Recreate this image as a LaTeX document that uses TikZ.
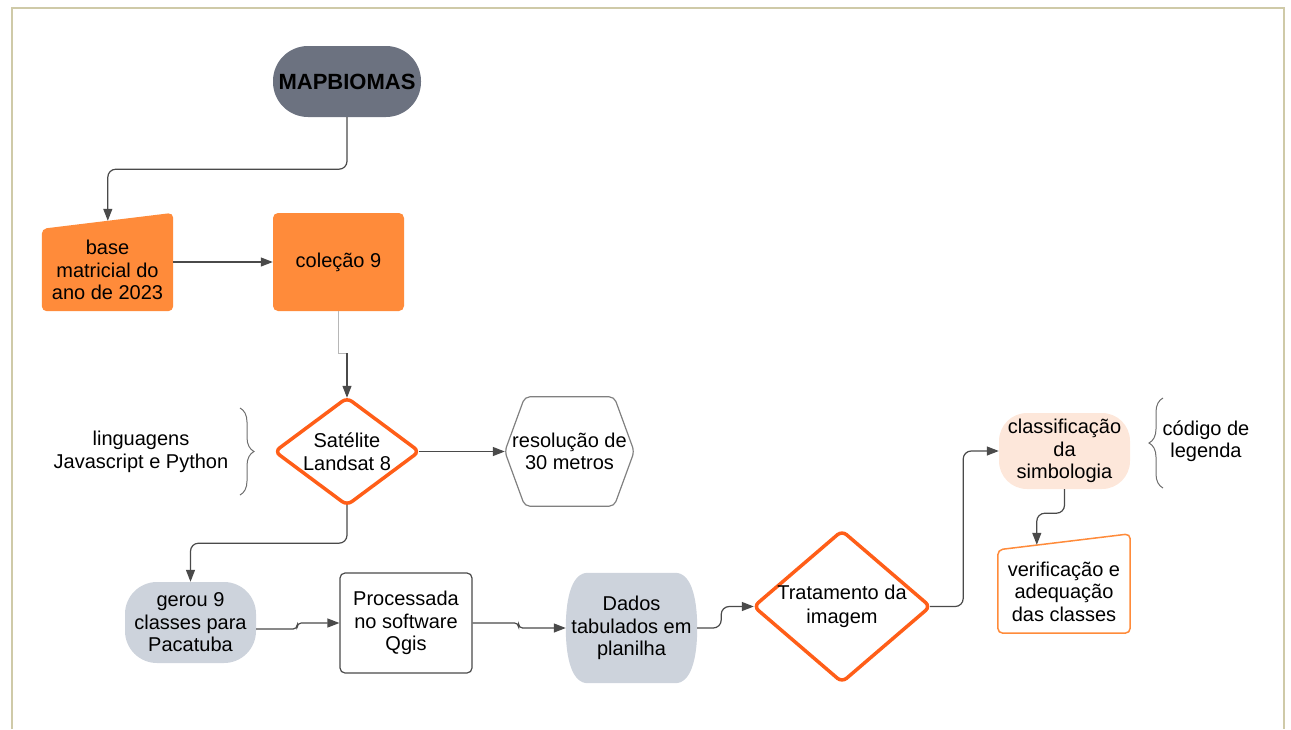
\documentclass[tikz,border=0pt]{standalone}
\usepackage{xcolor}
\usepackage{fontspec}
\setmainfont{Liberation Sans}
\usepackage{tikz}
\usetikzlibrary{shapes.geometric, arrows.meta, positioning, calc, backgrounds, decorations.pathreplacing}
\definecolor{mapcinza}{RGB}{108,114,128}
\definecolor{laranja}{RGB}{255,139,58}
\definecolor{vermelho}{RGB}{255,94,24}
\definecolor{cinzaclaro}{RGB}{205,211,220}
\definecolor{pessego}{RGB}{253,231,218}
\definecolor{linha}{RGB}{74,74,74}
\definecolor{moldura}{RGB}{207,202,168}
\tikzstyle{txt} = [align=center, inner sep=0pt, text=black, font=\fontsize{20}{22.5}\selectfont]
\tikzstyle{term} = [txt, fill=mapcinza, rounded corners=35pt, minimum width=148pt, minimum height=71pt,
 font=\fontsize{22}{24}\bfseries\selectfont]
\tikzstyle{caixa} = [txt, rounded corners=5pt]
\tikzstyle{losango} = [draw=vermelho, line width=3.5pt, fill=white, rounded corners=6pt]
\tikzstyle{conn} = [draw=linha, line width=1.2pt, ->, >={Triangle[length=12pt,width=9pt]}]
\tikzstyle{chave} = [draw=linha!80, line width=1pt, decorate, decoration={brace, amplitude=14pt}]

\begin{document}
\begin{tikzpicture}[x=1pt, y=-1pt]
	\useasboundingbox (0,0) rectangle (1291,729);
	\draw[moldura, line width=2pt] (11.5,729) -- (11.5,7.5) -- (1284,7.5) -- (1284,729); % moldura

	% Nos
	\node[term] (map) at (347,81.5) {MAPBIOMAS};
	\node[txt, minimum width=131pt, minimum height=82pt] (base) at (107.5,270) {base\\matricial do\\ano de 2023};
	\node[caixa, fill=laranja, minimum width=131pt, minimum height=98pt] (col) at (338.5,262) {coleção 9};
	\node[txt, minimum width=144pt, minimum height=107pt] (sat) at (347,451.5) {Satélite\\Landsat 8};
	\node[txt, minimum width=129pt, minimum height=109pt] (hex) at (569.5,451.5) {resolução de\\30 metros};
	\node[txt] (ling) at (141,452) {linguagens\\Javascript e Python};
	\node[caixa, fill=cinzaclaro, rounded corners=32pt, minimum width=131pt, minimum height=81pt] (gerou) at (190.5,622.5) {gerou 9\\classes para\\Pacatuba};
	\node[caixa, draw=linha, line width=1.2pt, minimum width=132pt, minimum height=100pt] (proc) at (406,623) {Processada\\no software\\Qgis};
	\node[txt, minimum width=131pt, minimum height=110pt] (dados) at (631.5,628) {Dados\\tabulados em\\planilha};
	\node[txt, minimum width=176pt, minimum height=151pt] (trat) at (842,606.5) {Tratamento da\\[2pt]imagem};
	\node[caixa, fill=pessego, rounded corners=28pt, minimum width=131pt, minimum height=76pt] (clas) at (1064.5,451) {classificação\\da\\simbologia};
	\node[txt] (cod) at (1206,441) {código de\\legenda};
	\node[txt, minimum width=132pt, minimum height=83pt] (ver) at (1064,591.5) {verificação e\\adequação\\das classes};

	% Formas de fundo
	\begin{scope}[on background layer]
		\fill[laranja, rounded corners=5pt] (base.south west) -- (base.south east) -- ($(base.north east)+(0,-16)$) -- (base.north west) -- cycle; % entrada manual
		\draw[losango] (sat.north) -- (sat.east) -- (sat.south) -- (sat.west) -- cycle;
		\draw[draw=linha!70, line width=1.2pt, rounded corners=5pt] (hex.west) -- ($(hex.north west)+(20,0)$) -- ($(hex.north east)+(-20,0)$)
			-- (hex.east) -- ($(hex.south east)+(-20,0)$) -- ($(hex.south west)+(20,0)$) -- cycle; % hexagono
		\fill[cinzaclaro] ($(dados.north west)+(22,0)$) -- ($(dados.north east)+(-22,0)$)
			.. controls ($(dados.north east)+(-7,0)$) and ($(dados.east)+(0,-33)$) .. (dados.east)
			.. controls ($(dados.east)+(0,33)$) and ($(dados.south east)+(-7,0)$) .. ($(dados.south east)+(-22,0)$)
			-- ($(dados.south west)+(22,0)$)
			.. controls ($(dados.south west)+(7,0)$) and ($(dados.west)+(0,33)$) .. (dados.west)
			.. controls ($(dados.west)+(0,-33)$) and ($(dados.north west)+(7,0)$) .. cycle;
		\draw[losango] (trat.north) -- (trat.east) -- (trat.south) -- (trat.west) -- cycle;
		\draw[draw=laranja, line width=1.5pt, fill=white, rounded corners=5pt] (ver.south west) -- (ver.south east)
			-- ($(ver.north east)+(0,-16)$) -- (ver.north west) -- cycle;
	\end{scope}

	% Pontos de chegada nas entradas manuais
	\coordinate (btopo) at ($(base.north west)+(66,-8)$);
	\coordinate (vtopo) at ($(ver.north west)+(39,-5)$);

	% Conectores
	\draw[conn, rounded corners=8pt] (map.south) -- ++(0,52) -| (btopo);
	\draw[conn] (base.east |- col.west) -- (col.west);
	\draw[draw=linha!40, line width=1pt] (col.south) -- ++(0,42) coordinate (desvio) -- (desvio -| sat.north);
	\draw[conn] (desvio -| sat.north) -- (sat.north);
	\draw[conn] (sat.east) -- (hex.west);
	\draw[conn, rounded corners=8pt] (sat.south) -- ++(0,38) -| (gerou.north);
	\draw[conn, rounded corners=4pt] ($(gerou.east)+(0,6.5)$) -- ++(41,0) |- (proc.west);
	\draw[conn, rounded corners=4pt] (proc.east) -- ++(46,0) |- (dados.west);
	\draw[conn, rounded corners=8pt] (dados.east) -- ++(24,0) |- (trat.west);
	\draw[conn, rounded corners=8pt] (trat.east) -- ++(33,0) |- (clas.west);
	\draw[conn, rounded corners=8pt] (clas.south) -- ++(0,24) -| (vtopo);

	% Chaves
	\draw[chave] (240,408) -- (240,495);
	\draw[chave] (1163,488) -- (1163,398);
\end{tikzpicture}
\end{document}
